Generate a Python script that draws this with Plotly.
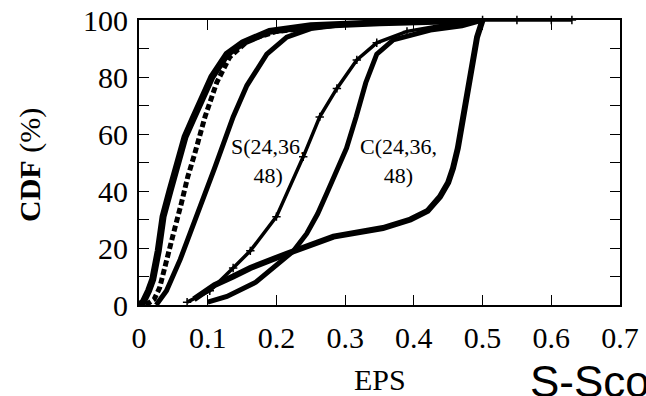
import plotly.graph_objects as go

# S curves (24, 36, 48)
s1_x = [0, 0.006, 0.014, 0.02, 0.028, 0.035, 0.045, 0.057, 0.067, 0.078, 0.089, 0.106, 0.128, 0.151, 0.19, 0.25, 0.35, 0.5]
s1_y = [0, 1, 5, 9, 19, 31, 40, 50, 59, 65, 71, 80, 88, 92, 96, 98, 99, 100]
s2_x = [0.01, 0.022, 0.03, 0.038, 0.05, 0.062, 0.071, 0.081, 0.096, 0.113, 0.132, 0.16, 0.2, 0.3, 0.45]
s2_y = [0, 2, 6, 14, 25, 36, 45, 53, 66, 78, 87, 93, 96, 98.5, 100]
s3_x = [0.025, 0.04, 0.06, 0.084, 0.11, 0.137, 0.157, 0.186, 0.215, 0.25, 0.3, 0.4, 0.5]
s3_y = [0, 5, 16, 31, 48, 66, 77, 88, 94, 97, 98.5, 99.5, 100]
# C curves (24, 36, 48)
c1_x = [0.07, 0.103, 0.137, 0.162, 0.2, 0.239, 0.263, 0.288, 0.317, 0.346, 0.39, 0.45, 0.5, 0.55, 0.6, 0.63]
c1_y = [1, 5, 13, 19, 31, 52, 66, 76, 86, 92, 96, 98.5, 100, 100, 100, 100]
c2_x = [0.1, 0.128, 0.17, 0.205, 0.225, 0.244, 0.26, 0.273, 0.288, 0.302, 0.316, 0.33, 0.346, 0.37, 0.424, 0.47, 0.5]
c2_y = [1, 3, 8, 15, 19, 25, 32, 39, 47, 55, 66, 78, 88, 93, 96.5, 98, 100]
c3_x = [0.08, 0.11, 0.137, 0.162, 0.215, 0.283, 0.355, 0.395, 0.42, 0.438, 0.45, 0.457, 0.464, 0.472, 0.484, 0.492, 0.5]
c3_y = [2, 7, 10, 13, 18, 24, 27, 30, 33, 38, 43, 48, 55, 67, 84, 94, 100]

x_ticks = [0, 0.1, 0.2, 0.3, 0.4, 0.5, 0.6, 0.7]
x_tick_text = ["0", "0.1", "0.2", "0.3", "0.4", "0.5", "0.6", "0.7"]
y_ticks = [0, 20, 40, 60, 80, 100]

SERIF = "Liberation Serif"
L, R, T, B = 139, 26, 20, 91
W, H = 646, 396
pw, ph = W - L - R, H - T - B

def px_x(p):
    return (p - L) / pw

def px_y(p):
    return (H - B - p) / ph

fig = go.Figure()

def add(x, y, width, dash="solid", marker=False):
    fig.add_trace(go.Scatter(
        x=x, y=y, mode="lines+markers" if marker else "lines",
        line=dict(color="black", width=width, dash=dash),
        marker=dict(symbol="cross-thin", size=6, color="black", line=dict(color="black", width=1.5)),
        showlegend=False, hoverinfo="skip", cliponaxis=False))

add(s1_x, s1_y, 7)
add(s2_x, s2_y, 5, dash="6px,3px")
add(s3_x, s3_y, 5)
add(c1_x, c1_y, 3.5, marker=True)
add(c2_x, c2_y, 5)
add(c3_x, c3_y, 6)

fig.add_annotation(x=0.188, y=50.5, xref="x", yref="y", text="S(24,36,<br>48)",
                   showarrow=False, font=dict(family=SERIF, size=22, color="black"))
fig.add_annotation(x=0.378, y=50.5, xref="x", yref="y", text="C(24,36,<br>48)",
                   showarrow=False, font=dict(family=SERIF, size=22, color="black"))
fig.add_annotation(x=px_x(30), y=px_y(165), xref="paper", yref="paper", text="<b>CDF</b> (%)",
                   xanchor="center", yanchor="middle",
                   textangle=-90, showarrow=False, font=dict(family=SERIF, size=30, color="black"))
fig.add_annotation(x=px_x(380), y=px_y(379), xref="paper", yref="paper", text="EPS",
                   xanchor="center", yanchor="middle",
                   showarrow=False, font=dict(family=SERIF, size=30, color="black"))
fig.add_annotation(x=px_x(528), y=px_y(408), xref="paper", yref="paper", text="S-Score",
                   xanchor="left", yanchor="bottom", showarrow=False,
                   font=dict(family="Liberation Sans", size=44, color="black"))

fig.update_layout(
    width=W, height=H, margin=dict(l=L, r=R, t=T, b=B, autoexpand=False),
    plot_bgcolor="white", paper_bgcolor="white",
    xaxis=dict(range=[0, 0.7], tickvals=x_ticks, ticktext=x_tick_text, automargin=False,
               ticks="inside", ticklen=10, tickwidth=1, tickcolor="black",
               ticklabelstandoff=5,
               showline=True, linecolor="black", linewidth=2, mirror="ticks",
               showgrid=False, zeroline=False,
               tickfont=dict(family=SERIF, size=30, color="black")),
    yaxis=dict(range=[0, 100], tickvals=y_ticks, automargin=False,
               ticks="inside", ticklen=10, tickwidth=1, tickcolor="black",
               ticklabelstandoff=3,
               minor=dict(dtick=10, ticks="inside", ticklen=10, tickcolor="black", showgrid=False),
               showline=True, linecolor="black", linewidth=2, mirror="ticks",
               showgrid=False, zeroline=False,
               tickfont=dict(family=SERIF, size=30, color="black")),
)

fig.write_html("out.html")
